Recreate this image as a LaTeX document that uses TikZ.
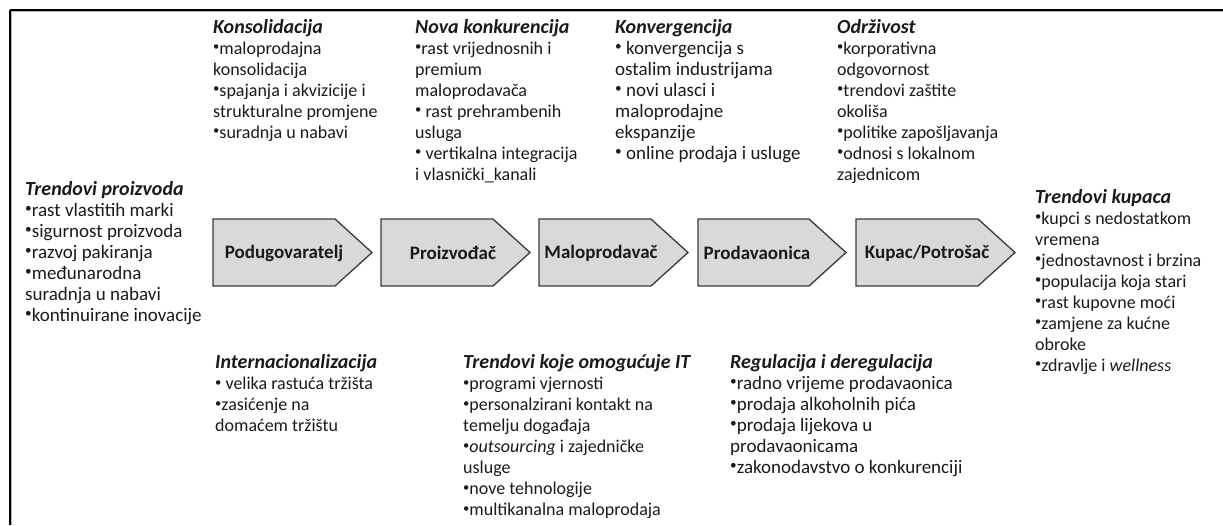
\documentclass[tikz,border=0pt]{standalone}
\usepackage{fontspec}
\usepackage{graphicx}
\setmainfont{Carlito}
\definecolor{txt}{HTML}{1A1A1A}
\definecolor{chevfill}{HTML}{D9D9D9}
\definecolor{chevdraw}{HTML}{3A3A3A}
\newcommand\ttl[1]{{\fontsize{20}{21}\selectfont\textbf{\textit{#1}}}}
\newcommand\bt{\raisebox{0.18em}{\scalebox{0.7}{•}}}
\tikzset{
  blk/.style={anchor=north west, inner sep=0pt, align=left, text=txt,
    font=\fontsize{18}{21}\selectfont},
  blkw/.style={blk, font=\fontsize{19}{21}\selectfont},
  chev/.style={fill=chevfill, draw=chevdraw, line width=1.3pt, line join=miter},
  clab/.style={inner sep=0pt, text=txt, font=\fontsize{19}{21}\selectfont\bfseries},
}
\begin{document}
\begin{tikzpicture}[x=1pt, y=-1pt]
\useasboundingbox (0,0) rectangle (1223,525);
% frame
\draw[gray!60, line width=1pt] (11,11.5) -- (1223,11.5);
\draw[gray!60, line width=1pt] (11.5,11) -- (11.5,525);
\draw[black, line width=2pt] (9.5,9.5) -- (1223,9.5);
\draw[black, line width=2pt] (9.5,9.5) -- (9.5,525);
% chevrons
\draw[chev] (213,219) -- (335,219) -- (372,252.5) -- (335,286) -- (213,286) -- cycle;
\draw[chev] (381,219) -- (493,219) -- (530,252.5) -- (493,286) -- (381,286) -- cycle;
\draw[chev] (539,219) -- (651,219) -- (688,252.5) -- (651,286) -- (539,286) -- cycle;
\draw[chev] (698,219) -- (809,219) -- (846,252.5) -- (809,286) -- (698,286) -- cycle;
\draw[chev] (856,219) -- (978,219) -- (1015,252.5) -- (978,286) -- (856,286) -- cycle;
\node[clab] (c1) at (284,253) {Podugovaratelj};
\node[clab] (c2) at (453,253) {Proizvođač};
\node[clab] (c3) at (601,253) {Maloprodavač};
\node[clab] (c4) at (757,253) {Prodavaonica};
\node[clab] (c5) at (927,253) {Kupac/Potrošač};
% top text blocks
\node[blk] (kons) at (213,19) {\ttl{Konsolidacija}\\
\bt maloprodajna\\
konsolidacija\\
\bt spajanja i akvizicije i\\
strukturalne promjene\\
\bt suradnja u nabavi};
\node[blk] (nova) at (415,19) {\ttl{Nova konkurencija}\\
\bt rast vrijednosnih i\\
premium\\
maloprodavača\\
\bt{} rast prehrambenih\\
usluga\\
\bt{} vertikalna integracija\\
i vlasnički\_kanali};
\node[blkw] (konv) at (615,19) {\ttl{Konvergencija}\\
\bt{} konvergencija s\\
ostalim industrijama\\
\bt{} novi ulasci i\\
maloprodajne\\
ekspanzije\\
\bt{} online prodaja i usluge};
\node[blk] (odr) at (837,19) {\ttl{Održivost}\\
\bt korporativna\\
odgovornost\\
\bt trendovi zaštite\\
okoliša\\
\bt politike zapošljavanja\\
\bt odnosi s lokalnom\\
zajednicom};
% side blocks
\node[blkw] (proiz) at (25,181) {\ttl{Trendovi proizvoda}\\
\bt rast vlastitih marki\\
\bt sigurnost proizvoda\\
\bt razvoj pakiranja\\
\bt međunarodna\\
suradnja u nabavi\\
\bt kontinuirane inovacije};
\node[blk] (kup) at (1035,189) {\ttl{Trendovi kupaca}\\
\bt kupci s nedostatkom\\
vremena\\
\bt jednostavnost i brzina\\
\bt populacija koja stari\\
\bt rast kupovne moći\\
\bt zamjene za kućne\\
obroke\\
\bt zdravlje i \textit{wellness}};
% bottom blocks
\node[blk] (inter) at (215,354) {\ttl{Internacionalizacija}\\
\bt{} velika rastuća tržišta\\
\bt zasićenje na\\
domaćem tržištu};
\node[blk] (it) at (463,354) {\ttl{Trendovi koje omogućuje IT}\\
\bt programi vjernosti\\
\bt personalzirani kontakt na\\
temelju događaja\\
\bt\textit{outsourcing} i zajedničke\\
usluge\\
\bt nove tehnologije\\
\bt multikanalna maloprodaja};
\node[blkw] (reg) at (730,354) {\ttl{Regulacija i deregulacija}\\
\bt radno vrijeme prodavaonica\\
\bt prodaja alkoholnih pića\\
\bt prodaja lijekova u\\
prodavaonicama\\
\bt zakonodavstvo o konkurenciji};
\end{tikzpicture}
\end{document}
